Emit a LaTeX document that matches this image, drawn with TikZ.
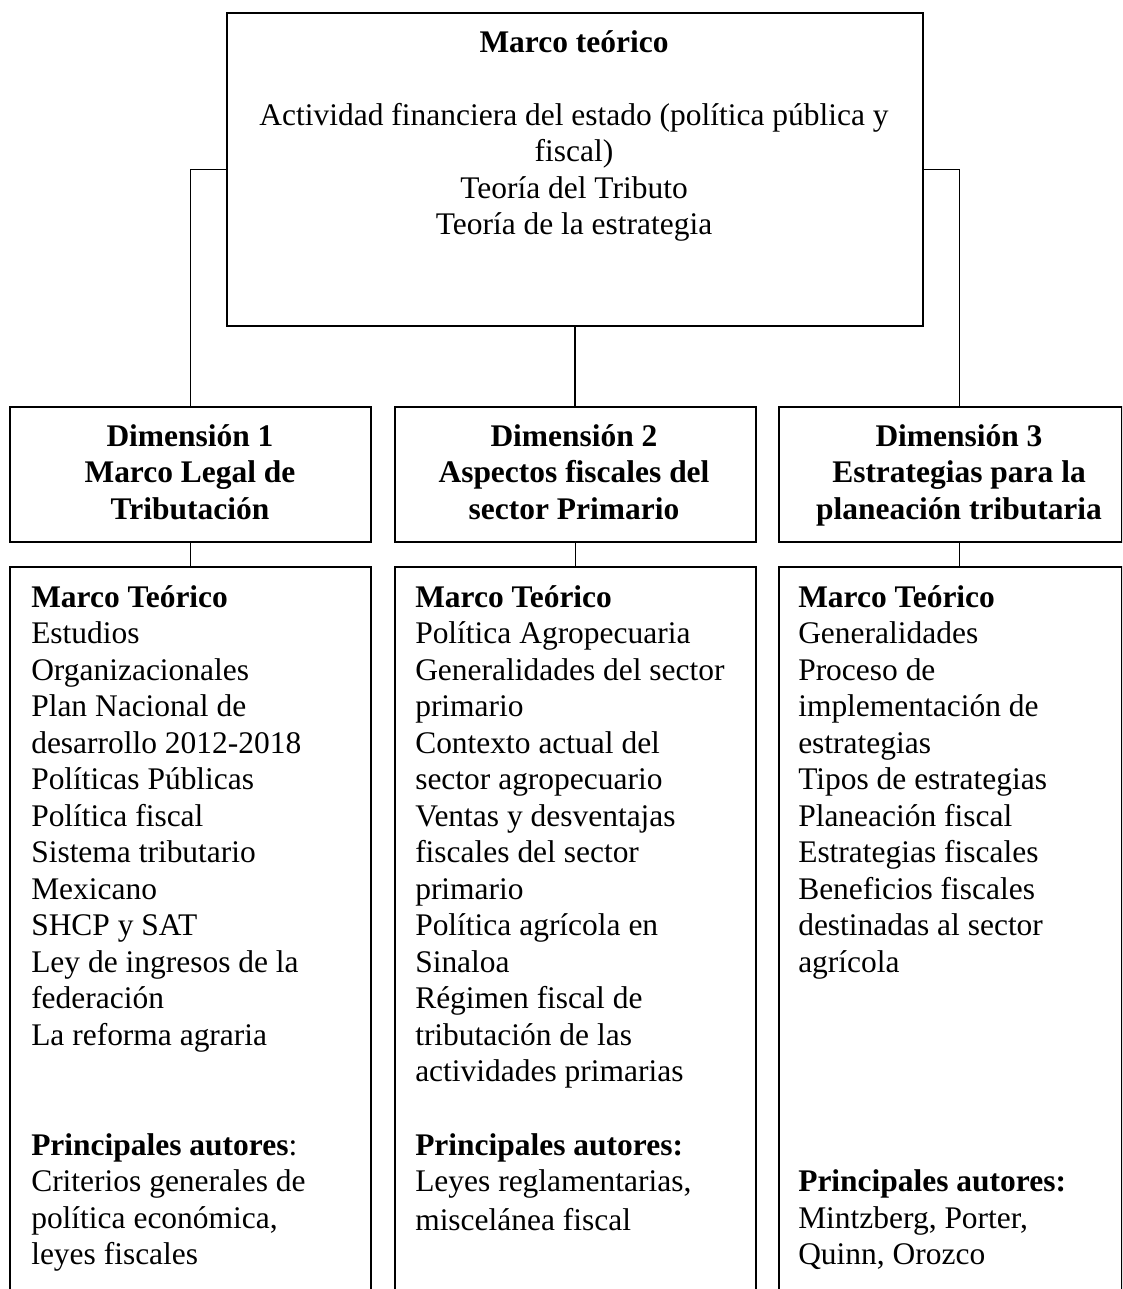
\documentclass[tikz,border=0pt]{standalone}
\usepackage{fontspec}
\setmainfont{Liberation Serif}
\newcommand\tfont{\fontsize{23.6pt}{27.4pt}\selectfont}
\begin{document}
\begin{tikzpicture}[x=0.75pt,y=-0.75pt,
  boxstyle/.style={draw, line width=1.5pt, inner sep=0pt, anchor=north west},
  link/.style={line width=1pt},
  ltext/.style={inner sep=0pt, anchor=base west, font=\tfont},
  ctext/.style={inner sep=0pt, anchor=base, font=\tfont}]
\path[use as bounding box] (0,0) rectangle (1122,1289);
\clip (0,0) rectangle (1122,1289);
% boxes
\node[boxstyle, minimum width=522pt, minimum height=234.75pt] (top) at (226,12) {};
\node[boxstyle, minimum width=270.75pt, minimum height=101.25pt] (d1) at (9,406) {};
\node[boxstyle, minimum width=270.75pt, minimum height=101.25pt] (d2) at (394,406) {};
\node[boxstyle, minimum width=257.25pt, minimum height=101.25pt] (d3) at (778,406) {};
\node[boxstyle, minimum width=270.75pt, minimum height=558pt] (c1) at (9,566) {};
\node[boxstyle, minimum width=270.75pt, minimum height=558pt] (c2) at (394,566) {};
\node[boxstyle, minimum width=257.25pt, minimum height=558pt] (c3) at (778,566) {};
% connectors
\draw[link] (top.west) -| (d1.north);
\draw[link] (top.south) -- (top.south |- d2.north);
\draw[link] (top.east) -| ([xshift=6.9pt]d3.north);
\draw[link] (d1.south) -- (c1.north);
\draw[link] (d2.south) -- (c2.north);
\draw[link] ([xshift=6.9pt]d3.south) -- ([xshift=6.9pt]c3.north);
% texts
\node[ctext] (ttop) at (574,52) {\parbox[t]{520pt}{\centering\textbf{Marco teórico}\\ \mbox{}\\
Actividad financiera del estado (política pública y\\ fiscal)\\ Teoría del Tributo\\ Teoría de la estrategia}};
\node[ctext] (td1) at (190,446) {\parbox[t]{260pt}{\centering\bfseries Dimensión 1\\ Marco Legal de\\ Tributación}};
\node[ctext] (td2) at (574,446) {\parbox[t]{260pt}{\centering\bfseries Dimensión 2\\ Aspectos fiscales del\\ sector Primario}};
\node[ctext] (td3) at (959,446) {\parbox[t]{260pt}{\centering\bfseries Dimensión 3\\ Estrategias para la\\ planeación tributaria}};
\node[ltext] (tc1) at (31,607) {\parbox[t]{300pt}{\raggedright\textbf{Marco Teórico}\\ Estudios\\ Organizacionales\\ Plan Nacional de\\ desarrollo 2012-2018\\ Políticas Públicas\\ Política fiscal\\ Sistema tributario\\ Mexicano\\ SHCP y SAT\\ Ley de ingresos de la\\ federación\\ La reforma agraria\\ \mbox{}\\ \mbox{}\\ \textbf{Principales autores}:\\ Criterios generales de\\ política económica,\\ leyes fiscales}};
\node[ltext] (tc2) at (415,607) {\parbox[t]{300pt}{\raggedright\textbf{Marco Teórico}\\ Política Agropecuaria\\ Generalidades del sector\\ primario\\ Contexto actual del\\ sector agropecuario\\ Ventas y desventajas\\ fiscales del sector\\ primario\\ Política agrícola en\\ Sinaloa\\ Régimen fiscal de\\ tributación de las\\ actividades primarias\\ \mbox{}\\ \textbf{Principales autores:}\\ Leyes reglamentarias,\\[1.5pt] miscelánea fiscal}};
\node[ltext] (tc3) at (798,607) {\parbox[t]{300pt}{\raggedright\textbf{Marco Teórico}\\ Generalidades\\ Proceso de\\ implementación de\\ estrategias\\ Tipos de estrategias\\ Planeación fiscal\\ Estrategias fiscales\\ Beneficios fiscales\\ destinadas al sector\\ agrícola\\ \mbox{}\\ \mbox{}\\ \mbox{}\\ \mbox{}\\ \mbox{}\\ \textbf{Principales autores:}\\ Mintzberg, Porter,\\ Quinn, Orozco}};
\end{tikzpicture}
\end{document}
